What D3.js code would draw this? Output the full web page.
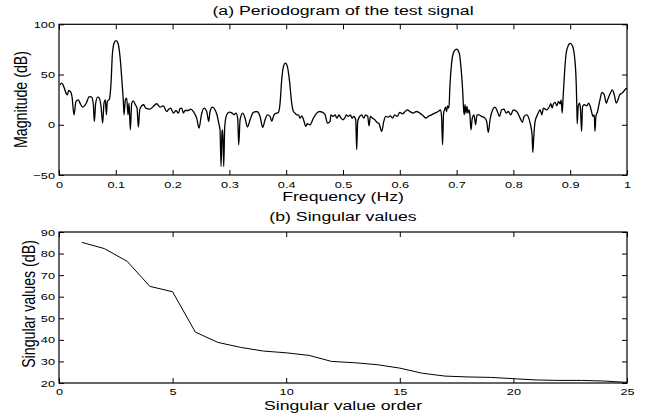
<!DOCTYPE html>
<html>
<head>
<meta charset="utf-8">
<script src="https://cdn.jsdelivr.net/npm/d3@7/dist/d3.min.js"></script>
<style>
  html, body { margin: 0; padding: 0; background: #fff; }
  svg { display: block; }
  text { font-family: "Liberation Sans", Arial, Helvetica, sans-serif; fill: #000; }
</style>
</head>
<body>
<svg id="chart" width="653" height="417"></svg>
<script>
// ---------- Data ----------
// (a) Periodogram: frequency (Hz) and magnitude (dB)
const freq = [
  0.0018,0.0047,0.0088,0.0123,0.0147,0.0170,0.0205,0.0229,0.0264,0.0299,0.0340,0.0370,0.0417,0.0475,0.0534,0.0575,0.0605,0.0622,0.0646,0.0681,
  0.0710,0.0740,0.0769,0.0792,0.0816,0.0834,0.0851,0.0886,0.0916,0.0939,0.0969,0.1004,0.1039,0.1074,0.1115,0.1133,0.1145,0.1168,0.1192,0.1215,
  0.1233,0.1256,0.1280,0.1309,0.1344,0.1374,0.1397,0.1421,0.1456,0.1491,0.1526,0.1603,0.1673,0.1720,0.1779,0.1837,0.1896,0.1925,0.1967,0.2013,
  0.2060,0.2102,0.2131,0.2160,0.2190,0.2219,0.2278,0.2319,0.2366,0.2424,0.2466,0.2507,0.2554,0.2601,0.2636,0.2659,0.2700,0.2747,0.2788,0.2818,
  0.2835,0.2853,0.2871,0.2882,0.2900,0.2918,0.2953,0.3000,0.3047,0.3082,0.3117,0.3146,0.3164,0.3188,0.3234,0.3276,0.3317,0.3364,0.3422,0.3481,
  0.3540,0.3587,0.3628,0.3669,0.3716,0.3745,0.3775,0.3804,0.3863,0.3892,0.3921,0.3951,0.3986,0.4021,0.4056,0.4097,0.4127,0.4156,0.4185,0.4215,
  0.4244,0.4274,0.4315,0.4344,0.4373,0.4420,0.4479,0.4538,0.4585,0.4643,0.4685,0.4726,0.4773,
  0.4788,0.4824,0.4859,0.4894,0.4929,0.4965,0.5000,0.5029,0.5059,0.5094,0.5129,0.5159,0.5188,0.5224,0.5241,0.5259,0.5294,0.5329,0.5365,0.5400,
  0.5435,0.5459,0.5482,0.5518,0.5559,0.5600,0.5635,0.5682,0.5718,0.5753,0.5794,0.5835,0.5871,0.5912,0.5953,0.6000,0.6047,0.6094,0.6135,0.6176,
  0.6235,0.6294,0.6353,0.6412,0.6459,0.6500,0.6559,0.6618,0.6676,0.6718,0.6735,0.6753,0.6771,0.6788,0.6806,0.6824,0.6841,0.6865,0.6882,0.6912,
  0.6953,0.7000,0.7047,0.7076,0.7106,0.7124,0.7135,0.7147,0.7165,0.7182,0.7200,0.7218,0.7235,0.7253,0.7276,0.7306,0.7335,0.7359,0.7394,0.7441,
  0.7500,0.7529,0.7559,0.7588,0.7635,0.7676,0.7718,0.7753,0.7794,0.7835,0.7871,0.7912,0.7953,0.8000,0.8059,0.8118,0.8159,0.8188,0.8235,0.8294,
  0.8329,0.8341,0.8359,0.8382,0.8424,0.8471,0.8500,0.8529,0.8588,0.8635,0.8659,0.8682,0.8706,0.8735,0.8765,0.8794,0.8824,0.8841,0.8859,0.8876,
  0.8900,0.8929,0.8971,0.9000,0.9041,0.9076,0.9106,0.9118,0.9124,0.9141,0.9165,0.9182,0.9200,0.9218,0.9247,0.9294,0.9324,0.9353,0.9382,0.9400,
  0.9424,0.9435,0.9453,0.9482,0.9518,0.9559,0.9600,0.9635,0.9659,0.9694,0.9741,0.9776,0.9812,0.9841,0.9871,0.9912,0.9941,0.9971,1.0000
];
const magnitude = [
  39.7,41.4,37.4,31.5,29.8,34.1,32.8,28.1,9.9,23.2,24.8,21.5,17.5,20.9,28.1,27.5,19.9,3.3,21.5,27.5,
  26.5,18.2,1.7,21.5,24.8,9.9,23.2,25.5,41.4,69.5,81.1,83.8,81.1,67.9,38.1,23.2,9.9,24.8,26.5,9.9,
  21.5,-5.0,21.5,23.8,19.9,16.6,-2.3,14.9,18.9,19.9,16.6,15.6,18.9,20.9,17.5,18.9,13.2,14.9,16.6,11.6,
  14.2,11.6,16.2,16.6,11.6,14.2,14.2,15.6,13.2,6.6,-3.3,9.9,16.6,13.2,3.3,13.2,17.5,14.9,8.3,0.0,
  -5.0,-41.4,-6.6,-5.0,-41.4,-1.7,9.9,12.6,11.6,9.9,11.6,6.6,-19.9,5.0,11.6,6.6,-2.3,5.0,12.3,13.2,
  8.3,-2.6,5.0,9.9,8.3,3.3,8.3,10.9,12.3,21.5,44.7,57.9,61.3,57.9,44.7,21.5,13.2,11.6,9.9,9.9,
  6.6,8.9,3.3,-1.7,1.0,0.0,6.6,11.6,13.2,12.3,9.9,1.7,3.3,
  9.9,8.3,9.9,6.6,9.9,6.6,5.0,6.6,9.9,8.3,9.9,6.6,8.3,5.0,-24.8,3.3,8.3,9.9,6.6,9.9,
  8.3,-1.0,8.3,6.6,5.0,2.3,1.0,-6.6,3.3,8.3,7.6,8.9,6.6,9.9,8.3,12.3,10.9,13.2,14.9,13.2,
  11.6,13.2,11.6,8.9,6.6,8.3,9.9,11.6,13.2,14.9,8.3,-19.9,11.6,14.9,17.5,13.2,18.9,16.6,38.1,61.3,
  72.8,75.2,71.2,57.9,34.8,14.9,9.9,19.9,11.6,18.2,11.6,14.9,9.9,-5.0,6.6,9.9,0.0,9.9,9.9,8.3,
  6.6,3.3,-7.6,5.0,14.9,17.5,13.2,8.3,14.9,15.6,11.6,13.2,9.9,14.9,13.2,6.6,2.3,8.3,9.9,1.7,
  -9.9,-27.5,-11.6,3.3,9.9,14.9,9.9,16.6,14.9,18.2,20.9,16.6,20.9,22.2,18.9,23.2,20.9,24.8,11.6,28.1,
  51.3,71.2,79.5,81.1,78.5,67.9,41.4,14.9,1.0,18.2,21.5,14.9,-6.6,18.2,19.9,18.9,21.5,18.2,11.6,8.3,
  9.9,-6.6,8.3,13.2,23.2,32.1,29.8,21.5,24.8,29.8,34.8,29.8,21.5,24.8,29.8,31.5,33.1,35.4,36.4
];
const freqTicks = [0, 0.1, 0.2, 0.3, 0.4, 0.5, 0.6, 0.7, 0.8, 0.9, 1];
const magTicks = [-50, 0, 50, 100];

// (b) Singular values (dB) by order
const svOrder = [1,2,3,4,5,6,7,8,9,10,11,12,13,14,15,16,17,18,19,20,21,22,23,24,25];
const svValues = [85.2,82.3,76.4,64.8,62.3,43.6,38.8,36.5,34.8,34.0,32.8,30.0,29.4,28.5,26.9,24.5,23.2,22.8,22.6,22.0,21.4,21.2,21.2,20.9,20.3];
const orderTicks = [0, 5, 10, 15, 20, 25];
const svTicks = [20, 30, 40, 50, 60, 70, 80, 90];

// ---------- Layout ----------
const SX = 1.33;          // horizontal stretch of text glyphs in the reference
const L = 59, R = 627;
const topA = 24.3, botA = 175;
const topB = 232, botB = 383;
const TICK = 5;
const svg = d3.select("#chart");

function stretchText(sel) {
  sel.selectAll("text").each(function () {
    const t = d3.select(this);
    const x = +t.attr("x") || 0, y = +t.attr("y") || 0;
    t.attr("x", null).attr("y", null)
     .attr("transform", `translate(${x},${y}) scale(${SX},1)`);
  });
}

function panel(x, y, xTicks, yTicks, xFmt, yFmt, padX) {
  const g = svg.append("g");
  const [y0, y1] = y.range();
  const [x0, x1] = x.range();
  // bottom axis (ticks inward, labels)
  const gb = g.append("g").attr("transform", `translate(0,${y0})`)
    .call(d3.axisBottom(x).tickValues(xTicks).tickFormat(xFmt)
      .tickSizeInner(-TICK).tickSizeOuter(0).tickPadding(padX));
  // top axis (ticks inward, no labels)
  const gt = g.append("g").attr("transform", `translate(0,${y1})`)
    .call(d3.axisTop(x).tickValues(xTicks).tickFormat("")
      .tickSizeInner(-TICK).tickSizeOuter(0));
  // left axis
  const gl = g.append("g").attr("transform", `translate(${x0},0)`)
    .call(d3.axisLeft(y).tickValues(yTicks).tickFormat(yFmt)
      .tickSizeInner(-TICK).tickSizeOuter(0).tickPadding(4));
  // right axis
  const gr = g.append("g").attr("transform", `translate(${x1},0)`)
    .call(d3.axisRight(y).tickValues(yTicks).tickFormat("")
      .tickSizeInner(-TICK).tickSizeOuter(0));
  [gb, gt, gl, gr].forEach(a => {
    a.select(".domain").remove();
    a.selectAll("line").attr("stroke", "#000").attr("stroke-width", 1);
    a.selectAll("text").attr("font-size", 9.6).attr("fill", "#000")
      .style("font-family", '"Liberation Sans", Arial, sans-serif');
  });
  stretchText(gb); stretchText(gl);
  g.append("rect").attr("x", x0).attr("y", y1)
    .attr("width", x1 - x0).attr("height", y0 - y1)
    .attr("fill", "none").attr("stroke", "#000").attr("stroke-width", 1.2);
  return g;
}

function label(txt, x, y, size, rot) {
  svg.append("text")
    .attr("transform", `translate(${x},${y}) scale(${SX},1)` + (rot ? " rotate(-90)" : ""))
    .attr("text-anchor", "middle")
    .attr("font-size", size)
    .text(txt);
}

// ---------- Panel (a) ----------
const xA = d3.scaleLinear().domain([0, 1]).range([L, R]);
const yA = d3.scaleLinear().domain([-50, 100]).range([botA, topA]);
panel(xA, yA, freqTicks, magTicks, d => String(+d.toFixed(1)), d3.format("d"), 6);

const perio = freq.map((f, i) => [f, magnitude[i]]);
svg.append("path").datum(perio)
  .attr("fill", "none").attr("stroke", "#000").attr("stroke-width", 1.3)
  .attr("stroke-linejoin", "round")
  .attr("d", d3.line().x(d => xA(d[0])).y(d => yA(d[1])).curve(d3.curveMonotoneX));

label("(a) Periodogram of the test signal", (L + R) / 2, 15, 13.3, false);
label("Frequency (Hz)", (L + R) / 2, 200.5, 13.3, false);
label("Magnitude (dB)", 27, 99.5, 14.2, true);

// ---------- Panel (b) ----------
const xB = d3.scaleLinear().domain([0, 25]).range([L, R]);
const yB = d3.scaleLinear().domain([20, 90]).range([botB, topB]);
panel(xB, yB, orderTicks, svTicks, d3.format("d"), d3.format("d"), 5);

const sv = svOrder.map((o, i) => [o, svValues[i]]);
svg.append("path").datum(sv)
  .attr("fill", "none").attr("stroke", "#000").attr("stroke-width", 1)
  .attr("d", d3.line().x(d => xB(d[0])).y(d => yB(d[1])));

label("(b) Singular values", (L + R) / 2, 220.5, 13.3, false);
label("Singular value order", (L + R) / 2, 410, 13.3, false);
label("Singular values (dB)", 35, 304, 14.2, true);
</script>
</body>
</html>
